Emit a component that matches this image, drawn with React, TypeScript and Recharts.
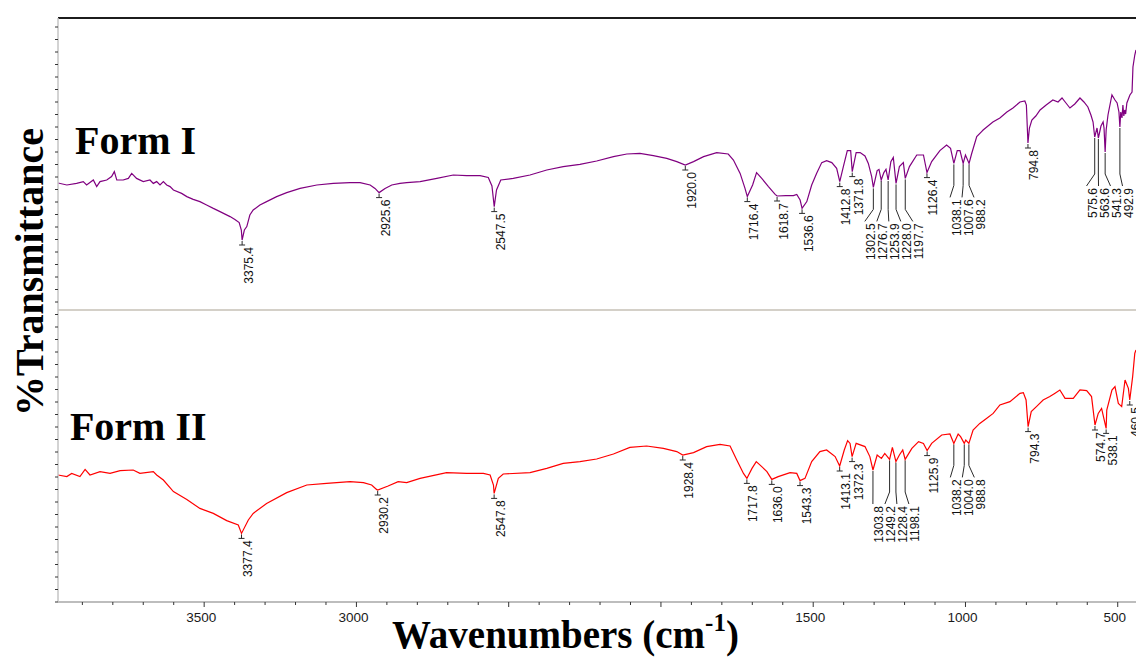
import {
  ComposedChart,
  Line,
  Scatter,
  XAxis,
  YAxis,
  ReferenceLine,
  ReferenceDot,
} from "recharts";

// [wavenumber cm-1, %T within its panel]
const formISpectrum: [number, number][] = [
  [3980, 63.5], [3951, 62.5], [3919, 63.3], [3897, 64.2], [3886, 62.5], [3864, 65],
  [3853, 61.7], [3842, 64.2], [3820, 65], [3804, 66.7], [3795, 69.2], [3787, 65],
  [3766, 65], [3749, 65.8], [3738, 68.3], [3722, 65.8], [3700, 64.2], [3678, 65],
  [3667, 63.3], [3656, 64.2], [3645, 62.5], [3634, 64.2], [3623, 62.5], [3612, 61.7],
  [3601, 60], [3574, 58.3], [3557, 56.7], [3536, 55.3], [3514, 54.2], [3492, 52.5],
  [3470, 50.8], [3448, 49.2], [3415, 46.7], [3399, 45.3], [3385, 43.7], [3378, 40],
  [3375.4, 35], [3368, 40], [3360, 41.7], [3350, 47.5], [3339, 50], [3317, 52.5],
  [3295, 54.2], [3262, 56.7], [3229, 58.7], [3185, 60.8], [3130, 62.5], [3076, 63.3],
  [3021, 63.7], [2988, 63.7], [2955, 62.5], [2939, 60.8], [2925.6, 58.7], [2906, 60.8],
  [2884, 62.5], [2857, 63.3], [2835, 63.7], [2791, 64.2], [2736, 65.8], [2682, 67.5],
  [2638, 67.2], [2594, 67.2], [2567, 66.3], [2555, 62], [2547.5, 51.7], [2540, 60],
  [2526, 65], [2485, 65.8], [2430, 67.5], [2375, 70], [2321, 71.7], [2266, 72.8],
  [2211, 74.5], [2156, 76.7], [2112, 78], [2069, 78.3], [2025, 77.2], [1981, 75.8],
  [1948, 74.2], [1920, 72.5], [1893, 74.2], [1860, 76.7], [1817, 78.7], [1779, 78],
  [1762, 75], [1740, 68.3], [1724, 60.8], [1716.4, 56.7], [1699, 62.5], [1686, 68.7],
  [1669, 65.8], [1647, 61.7], [1625, 57.8], [1618.7, 57], [1590, 57.2], [1565, 57.2],
  [1554, 57.8], [1543, 55], [1536.6, 50.8], [1521, 54.2], [1505, 62.5], [1489, 68.3],
  [1472, 73.7], [1456, 74.7], [1439, 73.7], [1423, 70.8], [1412.8, 64.2], [1401, 71.7],
  [1388, 79.7], [1377, 79.7], [1371.8, 69.2], [1359, 78.7], [1346, 78.7], [1330, 77],
  [1319, 73.3], [1308, 66.7], [1302.5, 61.3], [1290, 69.7], [1284, 70.3], [1276.7, 65],
  [1268, 68.7], [1261, 70.3], [1253.9, 65], [1245, 74.2], [1237, 76.3], [1228, 63.3],
  [1217, 71.7], [1204, 73.7], [1197.7, 65.8], [1184, 71.7], [1160, 77.5], [1138, 77.5],
  [1126.4, 68.7], [1111, 74.2], [1084, 79.7], [1062, 82.5], [1049, 80.8], [1038.1, 73.3],
  [1027, 79.7], [1018, 79.7], [1007.6, 73.3], [1000, 77.5], [988.2, 73.3], [980, 78],
  [963, 86.7], [947, 89.2], [942, 90], [910, 94], [887, 96], [864, 99],
  [844, 101], [821, 104], [805, 104.5], [800, 102.5], [794.8, 83.5], [790, 91],
  [782, 95], [769, 97], [755, 100], [735, 102.5], [713, 105], [696, 104],
  [683, 106], [670, 103.5], [657, 101], [641, 103], [624, 106], [611, 104],
  [598, 101.5], [588, 97.5], [581, 94], [575.6, 86.5], [568, 91], [563.6, 86],
  [555, 92], [548, 94], [545, 91], [541.3, 79], [538, 90], [532, 97.5],
  [519, 107.5], [509, 105], [502, 103.5], [496, 99], [492.9, 91.5], [490, 99],
  [486, 96], [483, 102.5], [480, 97], [477, 100], [474, 98], [470, 103.5],
  [460, 107.5], [453, 109], [450, 121.5], [444, 127.5], [440, 130],
];

const formIISpectrum: [number, number][] = [
  [3980, 63.5], [3951, 62.7], [3935, 64.3], [3908, 62.7], [3891, 66.3], [3875, 63.5],
  [3842, 65.2], [3809, 64.3], [3776, 65.7], [3733, 66], [3711, 64.3], [3667, 65.2],
  [3656, 63.5], [3634, 61], [3601, 55.2], [3557, 51.3], [3514, 46.8], [3470, 44.3],
  [3426, 40.7], [3388, 38.5], [3377.4, 34.3], [3355, 41], [3339, 44.3], [3295, 49.3],
  [3229, 54.7], [3163, 58.5], [3098, 59.3], [3021, 60.2], [2977, 59.7], [2950, 58.5],
  [2934, 56.3], [2930.2, 56], [2896, 58], [2863, 60.2], [2835, 59.7], [2791, 61.8],
  [2704, 64.7], [2638, 64.3], [2583, 64.3], [2561, 63.5], [2550, 58.5], [2547.8, 54.3],
  [2534, 61.8], [2518, 64], [2430, 64.7], [2375, 66.8], [2321, 69.3], [2266, 70.2],
  [2211, 71.5], [2156, 74], [2102, 77.3], [2047, 78], [1992, 76.8], [1948, 75.2],
  [1928.4, 73.5], [1893, 74.7], [1850, 77.7], [1806, 78.8], [1773, 78], [1751, 71],
  [1729, 64.3], [1717.8, 61.8], [1701, 66.8], [1687, 70.2], [1669, 67.7], [1652, 65.2],
  [1636, 61.3], [1615, 62.7], [1576, 64.7], [1554, 64.3], [1543.3, 60.7], [1527, 61.8],
  [1505, 70.2], [1478, 75.2], [1456, 76], [1428, 72.7], [1413.1, 68], [1398, 76],
  [1387, 80.7], [1379, 79.3], [1372.3, 72.7], [1359, 79.3], [1330, 77.7], [1314, 72.7],
  [1303.8, 66], [1290, 73.5], [1276, 71.8], [1265, 74.3], [1249.2, 71.3], [1240, 77.3],
  [1228.4, 70.2], [1217, 73.5], [1206, 76], [1198.1, 71.3], [1176, 76.8], [1154, 80.2],
  [1138, 79.3], [1125.9, 75.7], [1111, 79.3], [1078, 83.5], [1051, 84], [1038.2, 79.3],
  [1024, 84], [1016, 82.7], [1004, 79.3], [999, 81], [988.8, 79.3], [975, 86],
  [953, 89.3], [931, 91.8], [909, 94.3], [887, 98.5], [854, 100.2], [821, 104.3],
  [810, 104.7], [801, 101], [794.3, 87.7], [784, 95.2], [767, 97.7], [745, 101],
  [723, 102.7], [707, 104.3], [690, 106], [673, 101.8], [646, 101.8], [624, 106],
  [602, 105.7], [586, 102.7], [574.7, 88.5], [564, 94.3], [553, 96.8], [538.1, 86.8],
  [536, 96], [519, 106], [509, 107.7], [498, 99.3], [487, 97.7], [476, 111],
  [465, 106.8], [460.5, 101], [451, 112.7], [444, 124.3], [440, 126],
];

const formIPeaks = [
  3375.4, 2925.6, 2547.5, 1920.0, 1716.4, 1618.7, 1536.6, 1412.8, 1371.8, 1302.5,
  1276.7, 1253.9, 1228.0, 1197.7, 1126.4, 1038.1, 1007.6, 988.2, 794.8, 575.6,
  563.6, 541.3, 492.9,
];

const formIIPeaks = [
  3377.4, 2930.2, 2547.8, 1928.4, 1717.8, 1636.0, 1543.3, 1413.1, 1372.3, 1303.8,
  1249.2, 1228.4, 1198.1, 1125.9, 1038.2, 1004.0, 988.8, 794.3, 574.7, 538.1, 460.5,
];

const xTickLabels = [3500, 3000, 1500, 1000, 500];

const W = 1136;
const H = 657;
const TOP = 18;
const Y_AXIS_W = 58;
const X_AXIS_H = 55;
const PLOT_W = W - Y_AXIS_W;
const PLOT_H = H - TOP - X_AXIS_H;
const WN_MIN = 440;
const WN_MAX = 3980;
const T_MAX = 292;
const PANEL_T = 146; // Form I is drawn above this line
const PX_PER_WN = PLOT_W / (WN_MAX - WN_MIN);
const PX_PER_T = PLOT_H / T_MAX;
const LABEL_GAP = 12;

const SANS = "'Liberation Sans', Arial, sans-serif";
const SERIF = "'Liberation Serif', 'Times New Roman', serif";

const xTicks = Array.from({ length: 35 }, (_, i) => 3900 - i * 100);
const yTicks = Array.from({ length: 47 }, (_, i) => i * 6.25);

function valueAt(spec: [number, number][], wn: number) {
  for (let i = 1; i < spec.length; i++) {
    const [w0, t0] = spec[i - 1];
    const [w1, t1] = spec[i];
    if (wn <= w0 && wn >= w1) {
      return w0 === w1 ? t0 : t0 + ((t1 - t0) * (w0 - wn)) / (w0 - w1);
    }
  }
  return spec[spec.length - 1][1];
}

// spread peak labels apart and build leader lines, in data units
function placeLabels(peaks: number[], spec: [number, number][], offset: number) {
  const items = peaks
    .map((wn) => ({ wn, T: valueAt(spec, wn) + offset, x: (WN_MAX - wn) * PX_PER_WN }))
    .sort((a, b) => a.x - b.x);
  const lx = items.map((p) => p.x);
  for (let k = 0; k < 300; k++) {
    for (let i = 1; i < lx.length; i++) {
      const d = lx[i] - lx[i - 1];
      if (d < LABEL_GAP) {
        const s = (LABEL_GAP - d) / 2;
        lx[i - 1] -= s;
        lx[i] += s;
      }
    }
  }
  const px = (n: number) => n / PX_PER_T;
  const leaders: { wn: number; T: number }[][] = [];
  const texts: { wn: number; T: number; label: string }[] = [];
  let start = 0;
  for (let i = 1; i <= items.length; i++) {
    if (i < items.length && lx[i] - lx[i - 1] <= LABEL_GAP + 0.5) continue;
    const group: number[] = [];
    for (let j = start; j < i; j++) group.push(j);
    const shifted = group.some((j) => Math.abs(lx[j] - items[j].x) > 0.5);
    const lowT = Math.min(...group.map((j) => items[j].T));
    group.forEach((j) => {
      const p = items[j];
      const label = p.wn.toFixed(1);
      if (!shifted) {
        const end = p.T - px(5);
        const half = 3 / PX_PER_WN;
        leaders.push([{ wn: p.wn, T: p.T - px(1) }, { wn: p.wn, T: end }]);
        leaders.push([{ wn: p.wn + half, T: end }, { wn: p.wn - half, T: end }]);
        texts.push({ wn: p.wn, T: end - px(2), label });
      } else {
        const lwn = WN_MAX - lx[j] / PX_PER_WN;
        const bend = lowT - px(22);
        const end = bend - px(12);
        leaders.push([
          { wn: p.wn, T: p.T - px(1) },
          { wn: p.wn, T: bend },
          { wn: lwn, T: end },
        ]);
        texts.push({ wn: lwn, T: end - px(2), label });
      }
    });
    start = i;
  }
  return { leaders, texts };
}

const formIData = formISpectrum.map(([wn, t]) => ({ wn, T: t + PANEL_T }));
const formIIData = formIISpectrum.map(([wn, t]) => ({ wn, T: t }));
const formILabels = placeLabels(formIPeaks, formISpectrum, PANEL_T);
const formIILabels = placeLabels(formIIPeaks, formIISpectrum, 0);
const allLeaders = [...formILabels.leaders, ...formIILabels.leaders];
const allTexts = [...formILabels.texts, ...formIILabels.texts];

function PeakText(props: any) {
  const { cx, cy, payload } = props;
  if (cx == null || cy == null) return null;
  const bx = cx + 6.5;
  return (
    <text
      x={bx}
      y={cy}
      transform={`rotate(-90 ${bx} ${cy})`}
      textAnchor="end"
      dominantBaseline="central"
      fontSize={12}
      fontFamily={SANS}
      fill="#111"
    >
      {payload.label}
    </text>
  );
}

function XTick(props: any) {
  const { x, y, payload } = props;
  const v = payload.value;
  const major = v % 500 === 0;
  return (
    <g>
      <line x1={x} x2={x} y1={y} y2={y + (major ? 5 : 3)} stroke="#333" />
      {xTickLabels.includes(v) && (
        <text x={x - 3} y={y + 20} textAnchor="middle" fontSize={13.5} fontFamily={SANS} fill="#1a1a1a">
          {v}
        </text>
      )}
    </g>
  );
}

function YTick(props: any) {
  const { x, y } = props;
  return <line x1={x} x2={x - 3} y1={y} y2={y} stroke="#333" />;
}

function XTitle() {
  return (
    <text x={392} y={648} fontFamily={SERIF} fontWeight="bold" fontSize={39} fill="#000">
      Wavenumbers (cm
      <tspan fontSize={25} dy={-17}>
        -1
      </tspan>
      <tspan dy={17}>)</tspan>
    </text>
  );
}

function YTitle() {
  return (
    <text
      x={43}
      y={272}
      transform="rotate(-90 43 272)"
      textAnchor="middle"
      fontFamily={SERIF}
      fontWeight="bold"
      fontSize={40}
      fill="#000"
    >
      %Transmittance
    </text>
  );
}

const formName = (name: string) => (p: any) =>
  (
    <text x={p.cx} y={p.cy} fontFamily={SERIF} fontWeight="bold" fontSize={40} fill="#000">
      {name}
    </text>
  );

export default function App() {
  return (
    <div style={{ position: "absolute", left: 0, top: 0, width: W, height: H, background: "#fff" }}>
      <ComposedChart width={W} height={H} margin={{ top: TOP, right: 0, bottom: 0, left: 0 }}>
        <XAxis
          type="number"
          dataKey="wn"
          domain={[WN_MIN, WN_MAX]}
          reversed
          allowDataOverflow
          ticks={xTicks}
          interval={0}
          tickSize={0}
          tickMargin={0}
          tickLine={false}
          tick={<XTick />}
          height={X_AXIS_H}
          axisLine={{ stroke: "#bdbdbd", strokeWidth: 2 }}
          label={<XTitle />}
        />
        <YAxis
          type="number"
          domain={[0, T_MAX]}
          allowDataOverflow
          ticks={yTicks}
          interval={0}
          tickSize={0}
          tickMargin={0}
          tickLine={false}
          tick={<YTick />}
          width={Y_AXIS_W}
          axisLine={{ stroke: "#c4c4c4", strokeWidth: 1.5 }}
          label={<YTitle />}
        />
        <ReferenceLine y={T_MAX} stroke="#1c1c1c" strokeWidth={2} />
        <ReferenceLine y={PANEL_T} stroke="#d4d0c8" strokeWidth={2} />
        <ReferenceDot x={3924} y={224} r={0} shape={formName("Form I")} />
        <ReferenceDot x={3941} y={81} r={0} shape={formName("Form II")} />
        {allLeaders.map((pts, i) => (
          <Line
            key={`leader-${i}`}
            data={pts}
            dataKey="T"
            type="linear"
            stroke="#2a2a2a"
            strokeWidth={1}
            dot={false}
            activeDot={false}
            legendType="none"
            isAnimationActive={false}
          />
        ))}
        <Line
          data={formIData}
          dataKey="T"
          type="linear"
          stroke="#800080"
          strokeWidth={1.2}
          dot={false}
          activeDot={false}
          isAnimationActive={false}
        />
        <Line
          data={formIIData}
          dataKey="T"
          type="linear"
          stroke="#ff0000"
          strokeWidth={1.2}
          dot={false}
          activeDot={false}
          isAnimationActive={false}
        />
        <Scatter
          data={allTexts}
          dataKey="T"
          shape={(p: any) => <PeakText {...p} />}
          isAnimationActive={false}
        />
      </ComposedChart>
    </div>
  );
}
